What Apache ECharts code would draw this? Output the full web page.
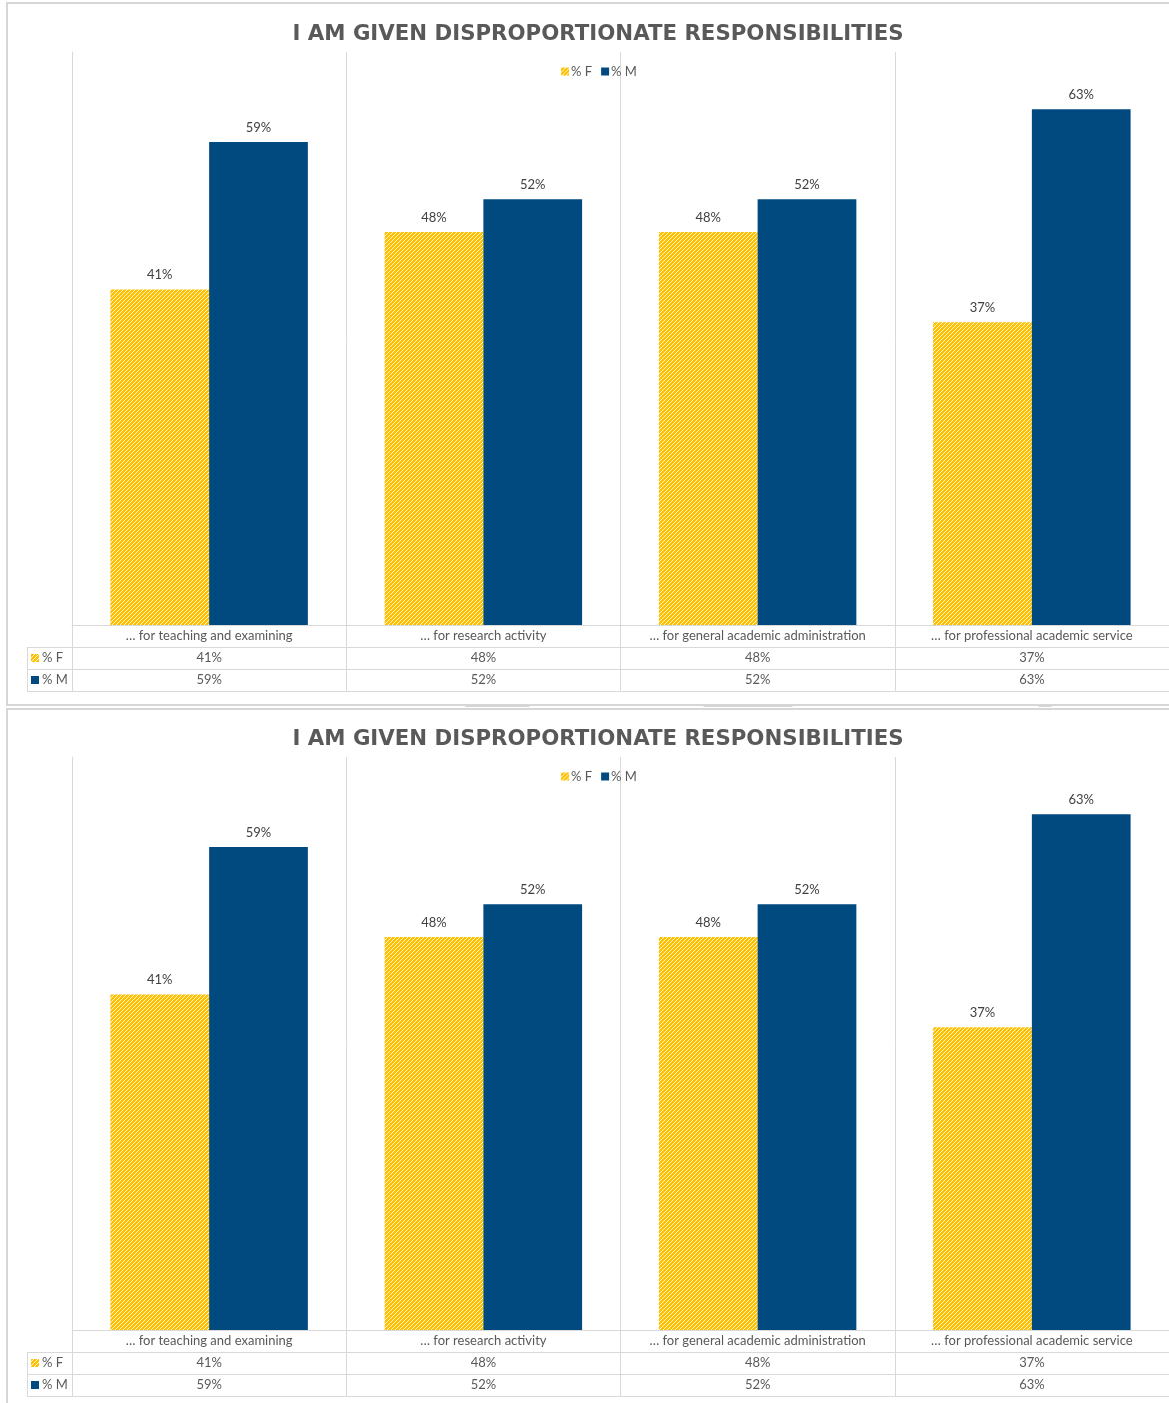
<!DOCTYPE html>
<html>
<head>
<meta charset="utf-8">
<script src="https://cdn.jsdelivr.net/npm/echarts@6/dist/echarts.min.js"></script>
<style>
  html, body { margin: 0; padding: 0; background: #ffffff; }
  #chart { width: 1169px; height: 1403px; }
</style>
</head>
<body>
<div id="chart"></div>
<script>
// ---- data ----
const titleText = 'I AM GIVEN DISPROPORTIONATE RESPONSIBILITIES';
const categories = [
  '… for teaching and examining',
  '… for research activity',
  '… for general academic administration',
  '… for professional academic service'
];
const seriesNames = ['% F', '% M'];
const femaleShare = [41, 48, 48, 37];
const maleShare = [59, 52, 52, 63];
const valueMin = 0;
const valueMax = 70;

// ---- styling / layout ----
const FONT = 'Lato, "Open Sans", sans-serif';
const TEXT = '#595959';
const LINE = '#d9d9d9';
const BLUE = '#004a80';
const GOLD = '#ffc000';
const PANEL_OFFSETS = [0, 705];
const GRID_LEFT = 72, GRID_TOP = 52, GRID_W = 1105, GRID_H = 573;
const ROW = 22, KEY_LEFT = 27;

// upward diagonal hatch used for the % F bars
function hatch() {
  const c = document.createElement('canvas');
  c.width = 4; c.height = 4;
  const ctx = c.getContext('2d');
  ctx.fillStyle = '#fff6dc';
  ctx.fillRect(0, 0, 4, 4);
  ctx.fillStyle = GOLD;
  for (let x = 0; x < 4; x++) {
    for (let y = 0; y < 4; y++) {
      const k = (x + y) % 4;
      if (k !== 0) ctx.fillRect(x, y, 1, 1);
    }
  }
  return c;
}
const hatchFill = { image: hatch(), repeat: 'repeat' };

const pct = v => v + '%';

const option = {
  animation: false,
  backgroundColor: '#ffffff',
  title: [], legend: [], grid: [], xAxis: [], yAxis: [], series: [], graphic: []
};

PANEL_OFFSETS.forEach((dy, p) => {
  const top = GRID_TOP + dy;
  const base = top + GRID_H;

  option.title.push({
    text: titleText,
    left: 593, top: 19 + dy, textAlign: 'center',
    textStyle: { fontFamily: '"DejaVu Sans", sans-serif', fontWeight: 'bold', fontSize: 21.3, color: TEXT }
  });
  option.legend.push({
    data: seriesNames,
    left: 556, top: 60 + dy,
    icon: 'rect', itemWidth: 8, itemHeight: 8, itemGap: 9,
    textStyle: { fontFamily: FONT, fontSize: 13, color: TEXT, padding: [0, 0, 0, -3] }
  });
  option.grid.push({ left: GRID_LEFT, top: top, width: GRID_W, height: GRID_H });

  const tableAxis = (data, offset, extra) => Object.assign({
    type: 'category', gridIndex: p, position: 'bottom', offset: offset, data: data,
    axisLine: { show: true, lineStyle: { color: LINE, width: 1 } },
    axisTick: { show: true, length: ROW, interval: 0, lineStyle: { color: LINE } },
    axisLabel: { show: true, interval: 0, margin: 11, verticalAlign: 'middle',
                 fontFamily: FONT, fontSize: 13, color: TEXT },
    splitLine: { show: false }
  }, extra || {});

  // category row + plot dividers
  option.xAxis.push(tableAxis(categories, 0, {
    splitLine: { show: true, interval: 0, lineStyle: { color: LINE, width: 1 } }
  }));
  // % F row
  option.xAxis.push(tableAxis(femaleShare.map(pct), ROW));
  // % M row
  option.xAxis.push(tableAxis(maleShare.map(pct), ROW * 2));
  // table bottom rule
  option.xAxis.push(tableAxis(categories, ROW * 3, {
    axisTick: { show: false }, axisLabel: { show: false }
  }));

  option.yAxis.push({
    type: 'value', gridIndex: p, min: valueMin, max: valueMax,
    axisLine: { show: true, lineStyle: { color: LINE, width: 1 } },
    axisTick: { show: false }, axisLabel: { show: false }, splitLine: { show: false }
  });

  const label = {
    show: true, position: 'top', distance: 8, formatter: p => p.value + '%',
    fontFamily: FONT, fontSize: 13, color: '#404040'
  };
  option.series.push({
    name: seriesNames[0], type: 'bar', xAxisIndex: p * 4, yAxisIndex: p,
    data: femaleShare, barGap: '0%', barCategoryGap: '28%',
    itemStyle: { color: hatchFill }, label: label
  });
  option.series.push({
    name: seriesNames[1], type: 'bar', xAxisIndex: p * 4, yAxisIndex: p,
    data: maleShare, barGap: '0%', barCategoryGap: '28%',
    itemStyle: { color: BLUE }, label: label
  });

  // series key column of the data table
  const lineStyle = { stroke: LINE, lineWidth: 1 };
  [1, 2, 3].forEach(r => {
    option.graphic.push({ type: 'line', silent: true,
      shape: { x1: KEY_LEFT, y1: base + ROW * r + 0.5, x2: GRID_LEFT, y2: base + ROW * r + 0.5 }, style: lineStyle });
  });
  option.graphic.push({ type: 'line', silent: true,
    shape: { x1: KEY_LEFT + 0.5, y1: base + ROW, x2: KEY_LEFT + 0.5, y2: base + ROW * 3 }, style: lineStyle });
  option.graphic.push({ type: 'line', silent: true,
    shape: { x1: GRID_LEFT + 0.5, y1: base, x2: GRID_LEFT + 0.5, y2: base + ROW * 3 }, style: lineStyle });
  [[hatchFill, seriesNames[0]], [BLUE, seriesNames[1]]].forEach((k, i) => {
    const cy = base + ROW * (i + 1) + ROW / 2;
    option.graphic.push({ type: 'rect', silent: true,
      shape: { x: 31, y: cy - 4, width: 8, height: 8 }, style: { fill: k[0] } });
    option.graphic.push({ type: 'text', silent: true, x: 42, y: cy,
      style: { text: k[1], fill: TEXT, font: '13px ' + FONT, textVerticalAlign: 'middle' } });
  });
});

// chart frames
option.graphic.push({ type: 'rect', silent: true, z: -1,
  shape: { x: 7, y: 3, width: 1180, height: 702 }, style: { fill: 'none', stroke: '#d6d6d6', lineWidth: 2 } });
option.graphic.push({ type: 'rect', silent: true, z: -1,
  shape: { x: 7, y: 709, width: 1180, height: 720 }, style: { fill: 'none', stroke: '#d6d6d6', lineWidth: 2 } });
// frame resize handles
[[463, 532], [701, 795], [1036, 1054]].forEach(h => {
  option.graphic.push({ type: 'polygon', silent: true,
    shape: { points: [[h[0], 704], [h[1], 704], [h[1] - 3, 707], [h[0] + 3, 707]] },
    style: { fill: '#d6d6d6' } });
});

const chart = echarts.init(document.getElementById('chart'), null, { renderer: 'canvas' });
chart.setOption(option);
</script>
</body>
</html>
